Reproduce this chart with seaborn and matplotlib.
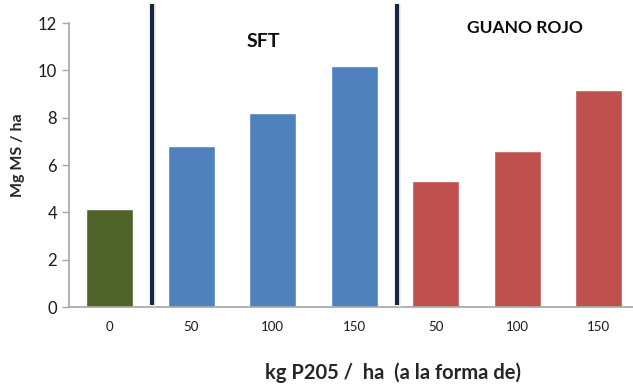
import matplotlib
matplotlib.use("Agg")
import matplotlib.pyplot as plt
import seaborn as sns
import pandas as pd

# Dry-matter yield by phosphorus dose and source
doses = ["0", "50", "100", "150", "50", "100", "150"]
sources = ["Testigo", "SFT", "SFT", "SFT", "Guano Rojo", "Guano Rojo", "Guano Rojo"]
yields = [4.15, 6.8, 8.2, 10.2, 5.32, 6.6, 9.18]
source_colors = {"Testigo": "#4f6228", "SFT": "#4f81bd", "Guano Rojo": "#c0504d"}

df = pd.DataFrame({
    "slot": [f"{s}-{d}" for s, d in zip(sources, doses)],
    "fuente": sources,
    "rendimiento": yields,
})

sns.set_theme(style="white")
plt.rcParams["font.family"] = ["Lato", "DejaVu Sans"]

fig = plt.figure(figsize=(6.33, 3.88), dpi=100)
ax = fig.add_axes([69 / 633, 81 / 388, 564 / 633, 284 / 388])

sns.barplot(data=df, x="slot", y="rendimiento", hue="fuente",
            palette=source_colors, dodge=False, width=0.58,
            saturation=1, legend=False, ax=ax)

ax.set_xlim(-0.5, 6.42)
ax.set_ylim(0, 12)
ax.set_yticks(range(0, 13, 2))
ax.set_xticks(range(len(doses)))
ax.set_xticklabels(doses, fontsize=9.5, color="#1a1a1a")
ax.tick_params(axis="y", labelsize=12, colors="#1a1a1a", length=5,
               width=1, direction="out", left=True, color="#a6a6a6")
ax.tick_params(axis="x", length=0, pad=10)

for side in ["top", "right"]:
    ax.spines[side].set_visible(False)
for side in ["left", "bottom"]:
    ax.spines[side].set_color("#a6a6a6")
    ax.spines[side].set_linewidth(1.2)

ax.set_ylabel("Mg MS / ha", fontsize=11.5, fontweight="bold", va="center")
ax.yaxis.set_label_coords(-0.09, 0.535)
ax.set_xlabel("kg P205 /  ha  (a la forma de)", fontsize=14.5,
              fontweight="bold", va="center")
ax.xaxis.set_label_coords(0.575, -0.232)

# Vertical separators between fertiliser sources
for xs in [0.52, 3.53]:
    ax.plot([xs + 0.025, xs + 0.025], [0.02, 12.75], color="#d9d9d9",
            lw=2, clip_on=False, zorder=3, alpha=0.5)
    ax.plot([xs, xs], [0.1, 12.8], color="#14283f", lw=3,
            clip_on=False, zorder=4, solid_capstyle="butt")

ax.text(1.88, 11.2, "SFT", fontsize=14, fontweight="bold",
        ha="center", va="center", color="#0d0d0d")
ax.text(5.1, 11.8, "GUANO ROJO", fontsize=12.5, fontweight="bold",
        ha="center", va="center", color="#0d0d0d")

fig.savefig("out.png", dpi=100)
